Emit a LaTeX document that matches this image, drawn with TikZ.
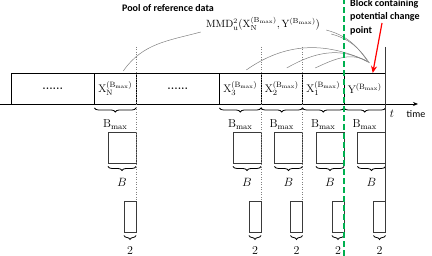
\documentclass[tikz,border=0pt]{standalone}
\usepackage{fontspec}
\newfontfamily\carlito{Carlito}
\usetikzlibrary{positioning,arrows.meta,decorations.pathreplacing}
\definecolor{change}{HTML}{00B050}
\definecolor{alert}{HTML}{FF0000}
\definecolor{edge}{HTML}{3A3A3A}
\tikzset{blk/.style={draw=black,line width=.8pt,minimum width=41.5pt,minimum height=31pt,inner sep=0pt,outer sep=0pt,font=\fontsize{11}{13}\selectfont},gap/.style={blk,minimum width=83.5pt},big/.style={draw=edge,line width=.6pt,minimum width=28pt,minimum height=31pt,inner sep=0pt,outer sep=0pt,anchor=north east},small/.style={big,minimum width=12pt},brc/.style={draw=black,line width=.8pt,decorate,decoration={brace,amplitude=4pt,raise=3.5pt}},lbl/.style={font=\fontsize{11.5}{13}\selectfont,inner sep=0pt},arc/.style={draw=gray,line width=.5pt},guide/.style={draw=gray,line width=.5pt,dotted},note/.style={font=\fontsize{10}{13.5}\selectfont\carlito\bfseries,inner sep=0pt,align=left}}

\begin{document}
\begin{tikzpicture}[x=1pt,y=1pt,node distance=0pt]
\useasboundingbox (0,0) rectangle (432,256);
% blocks of the series
\node[gap,anchor=west] (g1) at (11,167.5) {\textbf{......}};
\node[blk,right=of g1] (xN) {$\mathrm{X}_{\mathrm{N}}^{(\mathrm{B}_{\max})}$};
\node[gap,right=of xN] (g2) {\textbf{......}};
\node[blk,right=of g2] (x3) {$\mathrm{X}_{3}^{(\mathrm{B}_{\max})}$};
\node[blk,right=of x3] (x2) {$\mathrm{X}_{2}^{(\mathrm{B}_{\max})}$};
\node[blk,right=of x2] (x1) {$\mathrm{X}_{1}^{(\mathrm{B}_{\max})}$};
\node[blk,right=of x1] (y) {$\mathrm{Y}^{(\mathrm{B}_{\max})}$};
% time axis
\coordinate (t0) at (0,152);
\coordinate (t1) at (418,152);
\draw[line width=.8pt,-{Stealth[length=5pt,width=4pt]}] (t0)--(t1);
\node[lbl] (tt) at (392,142) {$t$};
\node[lbl,font=\fontsize{10}{12}\selectfont\carlito] (time) at (416,142) {time};
% windows below each block
\foreach \b in {xN,x3,x2,x1,y}{
\draw[brc] ([yshift=-.5pt]\b.south east)--([yshift=-.5pt]\b.south west);
\node[lbl] at (\b.south |- 0,131) {$\mathrm{B}_{\max}$};
\node[big] (b\b) at (\b.south east |- 0,124) {};
\draw[brc] (b\b.south east)--(b\b.south west);
\node[lbl,font=\fontsize{12.5}{14}\selectfont] at (b\b.south |- 0,74) {$B$};
\node[small] (s\b) at (\b.south east |- 0,55) {};
\draw[brc] (s\b.south east)--(s\b.south west);
\node[lbl,font=\fontsize{12.5}{14}\selectfont] at (s\b.south |- 0,5) {$2$};
}
\foreach \b in {xN,x3,x2}\draw[guide] (\b.east |- 0,209)--(s\b.north east);
\draw[edge,line width=.6pt] (y.east |- 0,209)--(sy.north east);
% labels and links
\node[note] (pool) at (168,248) {Pool of reference data};
\node[lbl,font=\fontsize{10.5}{12}\selectfont] (mmd) at (263,232) {$\mathrm{MMD}_{\mathrm{u}}^{2}\bigl(\mathrm{X}_{\mathrm{N}}^{(\mathrm{B}_{\max})},\mathrm{Y}^{(\mathrm{B}_{\max})}\bigr)$};
\draw[arc] ([xshift=-5pt,yshift=-1pt]mmd.south west) to[out=195,in=55] ([xshift=8pt,yshift=2pt]xN.north);
\draw[arc] ([xshift=6pt,yshift=1pt]mmd.south east) to[out=-15,in=125] ([xshift=2pt,yshift=13pt]y.north);
\draw[arc] ([xshift=11pt,yshift=-3pt]mmd.south east) to[out=-15,in=125] ([xshift=4pt,yshift=11pt]y.north);
\draw[arc] ([xshift=6pt,yshift=3pt]x3.north) to[out=35,in=155] ([xshift=2pt,yshift=12pt]y.north);
\draw[arc] ([xshift=5pt,yshift=5pt]x2.north) to[out=30,in=150] ([xshift=3pt,yshift=11pt]y.north);
\draw[arc] ([xshift=-8pt,yshift=5pt]x1.north) to[out=25,in=145] ([xshift=5pt,yshift=10pt]y.north);
% change point marker
\coordinate (c0) at (x1.east |- 0,0);
\coordinate (c1) at (x1.east |- 0,256);
\draw[change,line width=2pt,dash pattern=on 6pt off 3pt] (c0)--(c1);
\node[note,anchor=north west] (blk) at (350,257) {Block containing\\potential change\\point};
\coordinate (p0) at (382,233);
\draw[alert,line width=1.2pt,-{Stealth[length=7pt,width=6pt]}] (p0)--([xshift=8pt]y.north);
\end{tikzpicture}
\end{document}
